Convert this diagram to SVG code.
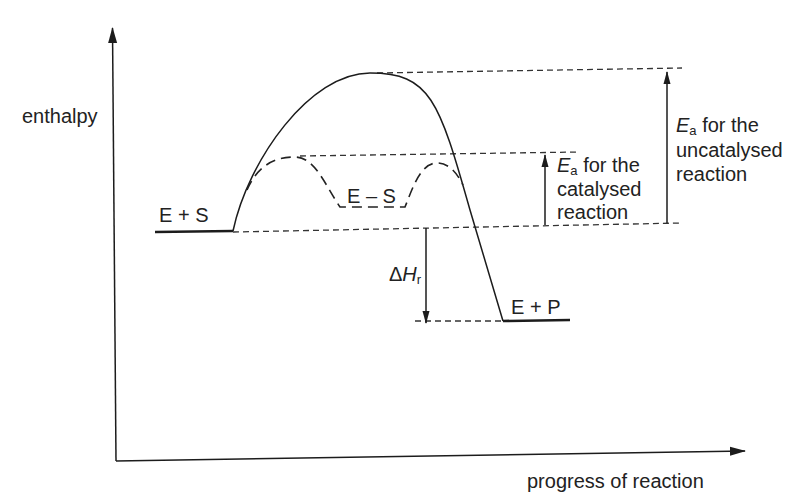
<svg xmlns="http://www.w3.org/2000/svg" width="793" height="496" viewBox="0 0 793 496">
<style>
  .t { font-family: "Liberation Sans", Arial, sans-serif; font-size: 20px; fill: #222; }
  .sub { font-size: 13px; }
  .ln { stroke: #1c1c1c; fill: none; stroke-width: 1.5; }
  .thick { stroke: #1c1c1c; fill: none; stroke-width: 2.6; }
  .dash { stroke: #333; fill: none; stroke-width: 1.3; stroke-dasharray: 6 4; }
  .dashc { stroke: #222; fill: none; stroke-width: 1.6; stroke-dasharray: 10 6; }
</style>
<defs>
  <marker id="ah" markerUnits="userSpaceOnUse" markerWidth="16" markerHeight="10" viewBox="0 0 16 10" refX="15" refY="5" orient="auto">
    <path d="M0,0.5 L16,5 L0,9.5 Z" fill="#1c1c1c"/>
  </marker>
  <marker id="ahs" markerUnits="userSpaceOnUse" markerWidth="13" markerHeight="8" viewBox="0 0 13 8" refX="12" refY="4" orient="auto">
    <path d="M0,0.5 L13,4 L0,7.5 Z" fill="#1c1c1c"/>
  </marker>
</defs>
<rect width="793" height="496" fill="#fff"/>

<g id="axes">
  <line class="ln" x1="116" y1="461" x2="112.5" y2="28" marker-end="url(#ah)"/>
  <line class="ln" x1="116" y1="461" x2="745" y2="451" marker-end="url(#ah)" stroke-width="2"/>
</g>

<g id="connectors">
  <!-- guide dashed lines -->
  <line class="dash" x1="233" y1="232" x2="682" y2="223"/>
  <line class="dash" x1="377" y1="73" x2="682" y2="68"/>
  <line class="dash" x1="300" y1="156" x2="580" y2="152"/>
  <line class="dash" x1="415" y1="321" x2="503" y2="321"/>
  <!-- energy arrows -->
  <line class="ln" x1="545" y1="225" x2="545" y2="155" marker-end="url(#ahs)"/>
  <line class="ln" x1="667" y1="223" x2="667" y2="72" marker-end="url(#ahs)"/>
  <line class="ln" x1="426" y1="228" x2="426" y2="323" marker-end="url(#ahs)"/>
</g>

<g id="uncatalysed-curve">
  <path class="ln" d="M233,231 C248,160 310,73 370,73 C430,73 439,100 470,210 L503,321"/>
</g>

<g id="catalysed-curve">
  <path class="dashc" d="M247,190 C258,165 275,157 295,157 C315,157 325,185 340,207 L405,207 C412,190 420,163 437,163 C450,163 458,175 463,185"/>
</g>

<g id="E-plus-S">
  <line class="thick" x1="155" y1="232" x2="233" y2="231"/>
  <text class="t" x="159" y="222">E + S</text>
</g>

<g id="E-S">
  <text class="t" x="347" y="203">E – S</text>
</g>

<g id="E-plus-P">
  <line class="thick" x1="503" y1="321" x2="570" y2="320"/>
  <text class="t" x="511" y="314">E + P</text>
</g>

<g id="label-enthalpy">
  <text class="t" x="22" y="123">enthalpy</text>
</g>

<g id="label-progress">
  <text class="t" x="527" y="488">progress of reaction</text>
</g>

<g id="label-Ea-catalysed">
  <text class="t" x="557" y="172"><tspan font-style="italic">E</tspan><tspan class="sub" dy="3">a</tspan><tspan dy="-3"> for the</tspan></text>
  <text class="t" x="557" y="196">catalysed</text>
  <text class="t" x="557" y="219">reaction</text>
</g>

<g id="label-Ea-uncatalysed">
  <text class="t" x="676" y="132"><tspan font-style="italic">E</tspan><tspan class="sub" dy="3">a</tspan><tspan dy="-3"> for the</tspan></text>
  <text class="t" x="676" y="157">uncatalysed</text>
  <text class="t" x="676" y="181">reaction</text>
</g>

<g id="label-dH">
  <text class="t" x="389" y="281">Δ<tspan font-style="italic">H</tspan><tspan class="sub" dy="3">r</tspan></text>
</g>
</svg>
